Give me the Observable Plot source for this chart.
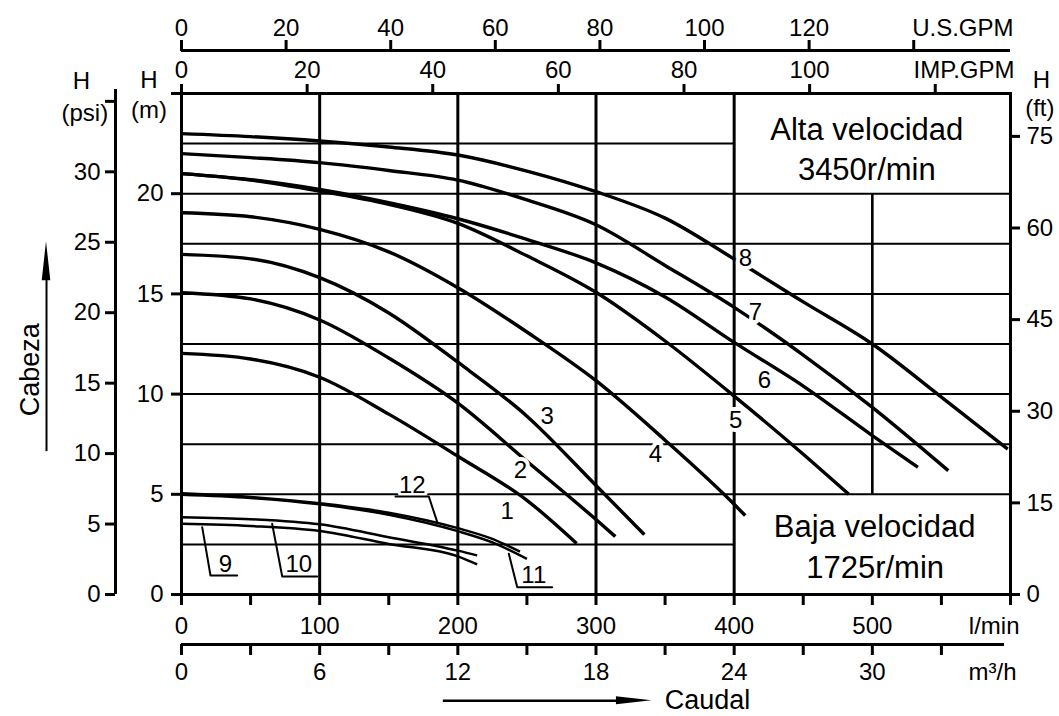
<!DOCTYPE html>
<html>
<head>
<meta charset="utf-8">
<script src="https://cdn.jsdelivr.net/npm/d3@7"></script>
<script src="https://cdn.jsdelivr.net/npm/@observablehq/plot@0.6"></script>
<style>
  html, body { margin: 0; padding: 0; background: #fff; overflow: hidden; }
  #chart { position: relative; width: 1059px; height: 716px; }
  #chart svg { position: absolute; left: 0; top: 0; background: transparent !important;
               overflow: visible; font-family: "Liberation Sans", Arial, sans-serif !important; }
</style>
</head>
<body>
<div id="chart"></div>
<script>
// ---------- data (flow in l/min, head in m) ----------
const curve1  = [[0,12.03],[50,11.75],[100,10.84],[150,9.0],[200,6.9],[250,4.7],[286,2.55]];
const curve2  = [[0,15.06],[50,14.75],[100,13.7],[150,11.8],[200,9.55],[250,6.65],[300,3.74],[314,2.89]];
const curve3  = [[0,16.97],[50,16.75],[100,15.81],[150,14.05],[200,11.59],[250,8.9],[300,5.44],[335,2.99]];
const curve4  = [[0,19.05],[50,18.85],[100,18.22],[150,17.1],[200,15.31],[250,13.1],[300,10.67],[350,7.7],[400,4.5],[408,3.94]];
const curve5  = [[0,21.0],[50,20.68],[100,20.13],[150,19.47],[200,18.52],[250,16.9],[300,15.08],[350,12.65],[400,9.9],[450,7.0],[483,5.0]];
const curve6  = [[0,21.0],[50,20.7],[100,20.21],[150,19.55],[200,18.75],[250,17.72],[300,16.55],[350,14.85],[400,12.58],[450,10.4],[500,7.93],[533,6.35]];
const curve7  = [[0,22.0],[50,21.8],[100,21.55],[150,21.16],[200,20.68],[250,19.69],[300,18.45],[350,16.42],[400,14.33],[450,11.95],[500,9.34],[555,6.18]];
const curve8  = [[0,23.0],[50,22.85],[100,22.63],[150,22.33],[200,21.93],[250,21.13],[300,20.1],[350,18.78],[400,16.74],[450,14.6],[500,12.5],[550,9.85],[598,7.25]];
const curve9  = [[0,3.53],[50,3.42],[100,3.17],[150,2.52],[200,1.9],[214,1.5]];
const curve10 = [[0,3.86],[50,3.76],[100,3.5],[150,2.86],[200,2.19],[214,1.95]];
const curve11 = [[0,4.98],[50,4.82],[100,4.5],[150,3.98],[200,3.16],[225,2.6],[250,1.78]];
const curve12 = [[0,5.05],[50,4.87],[100,4.55],[150,4.08],[200,3.31],[224,2.8],[245,2.14]];

const highCurves = {1: curve1, 2: curve2, 3: curve3, 4: curve4, 5: curve5, 6: curve6, 7: curve7, 8: curve8};
const lowCurves  = {9: curve9, 10: curve10, 11: curve11, 12: curve12};

// tick values
const lpmTicks   = d3.range(0, 601, 50);
const m3hTicks   = d3.range(0, 34, 3);
const usGpmTicks = [0, 20, 40, 60, 80, 100, 120, 140];
const impGpmTicks= [0, 20, 40, 60, 80, 100, 120];
const mTicks     = [0, 5, 10, 15, 20, 25];
const psiTicks   = [0, 5, 10, 15, 20, 25, 30, 35];
const ftTicks    = [0, 15, 30, 45, 60, 75];
const hGridFull  = [5, 7.5, 10, 12.5, 15, 17.5, 20];
const hGridShort = [2.5, 22.5];
const vGridFull  = [100, 200, 300, 400];
const vGridShort = [500];

// unit conversions
const L_PER_USGAL = 3.78541, L_PER_IMPGAL = 4.54609;
const PSI_PER_M = 1.42233, FT_PER_M = 3.28084;
const QMAX = 600, HMAX = 25;

// ---------- annotations (data units) ----------
const curveLabels = [
  {t: "1", q: 235.7, h: 4.15}, {t: "2", q: 245.3, h: 6.22}, {t: "3", q: 264.7, h: 8.88},
  {t: "4", q: 343, h: 6.98}, {t: "5", q: 401, h: 8.71}, {t: "6", q: 421.9, h: 10.71},
  {t: "7", q: 415.4, h: 14.08}, {t: "8", q: 408.2, h: 16.79}
];
const lowLabels = [
  {t: "9", q: 31.8, h: 1.53}, {t: "10", q: 84.9, h: 1.53},
  {t: "12", q: 167, h: 5.44}, {t: "11", q: 255, h: 0.95}
];
const leaders = [
  {id: 9,  pts: [[14.98,3.36],[20.99,0.95],[40.3,0.95]]},
  {id: 10, pts: [[65.6,3.53],[72.9,0.9],[98.2,0.9]]},
  {id: 12, pts: [[154.9,4.89],[179,4.89],[185.1,3.61]]},
  {id: 11, pts: [[236.9,2.03],[243,0.36],[268.3,0.36]]}
];

const toRows = obj => Object.entries(obj).flatMap(([id, pts]) => pts.map(([q, h]) => ({id, q, h})));
const highData = toRows(highCurves);
const lowData = toRows(lowCurves);
const leaderData = leaders.flatMap(l => l.pts.map(([q, h]) => ({id: l.id, q, h})));

const W = 1059, H = 716;
const frameM = {marginLeft: 181, marginRight: 49, marginTop: 93, marginBottom: 122};
const FS = 24;
const chart = document.getElementById("chart");

// ---------- main chart ----------
const main = Plot.plot({
  width: W, height: H, ...frameM,
  x: {domain: [0, QMAX]},
  y: {domain: [0, HMAX]},
  marks: [
    Plot.ruleY(hGridFull, {strokeWidth: 2}),
    Plot.ruleY(hGridShort, {x1: 0, x2: 400, strokeWidth: 2}),
    Plot.ruleX(vGridFull, {strokeWidth: 3}),
    Plot.ruleX(vGridShort, {y1: 5, y2: 20, strokeWidth: 2.6}),
    Plot.frame({strokeWidth: 3}),
    Plot.line(highData, {x: "q", y: "h", z: "id", curve: "monotone-x", strokeWidth: 3.4, strokeLinecap: "butt"}),
    Plot.line(lowData, {x: "q", y: "h", z: "id", curve: "monotone-x", strokeWidth: 2.5, strokeLinecap: "butt"}),
    Plot.text(curveLabels, {x: "q", y: "h", text: "t", fontSize: FS, fill: "black", stroke: "white", strokeWidth: 8}),
    Plot.text(lowLabels, {x: "q", y: "h", text: "t", fontSize: FS, fill: "black", stroke: "white", strokeWidth: 6}),
    Plot.line(leaderData, {x: "q", y: "h", z: "id", strokeWidth: 2}),
    // speed boxes
    Plot.text(["Alta velocidad"], {x: 496, y: 23.19, fontSize: 31}),
    Plot.text(["3450r/min"], {x: 496, y: 21.17, fontSize: 31}),
    Plot.text(["Baja velocidad"], {x: 501.6, y: 3.34, fontSize: 31}),
    Plot.text(["1725r/min"], {x: 502, y: 1.33, fontSize: 31}),
    // axes
    Plot.axisX({anchor: "bottom", ticks: lpmTicks, tickFormat: d => (d % 100 === 0 && d < 600) ? String(d) : "",
                tickSize: 11, tickPadding: 11, strokeWidth: 3, fontSize: FS, label: null}),
    Plot.text(["l/min"], {x: QMAX, y: 0, textAnchor: "end", lineAnchor: "top", dx: 9, dy: 22, fontSize: FS}),
    Plot.axisY({anchor: "left", ticks: mTicks, tickFormat: d => d === 25 ? "" : String(d),
                tickSize: 10, tickPadding: 8, strokeWidth: 3, fontSize: FS, label: null}),
    // axis titles
    Plot.text(["H"], {x: -23.5, y: 25.64, fontSize: FS}),
    Plot.text(["(m)"], {x: -23.5, y: 24.14, fontSize: FS}),
    Plot.text(["H"], {x: -72.4, y: 25.59, fontSize: FS}),
    Plot.text(["(psi)"], {x: -70, y: 23.99, fontSize: FS}),
    Plot.text(["H"], {x: 622.4, y: 25.67, fontSize: FS}),
    Plot.text(["(ft)"], {x: 621.2, y: 24.24, fontSize: FS}),
    Plot.text(["Cabeza"], {x: -109.3, y: 11.22, rotate: -90, fontSize: 27}),
    Plot.ruleX([-97.7], {y1: 7.13, y2: 15.8, strokeWidth: 2}),
    Plot.areaX([{h: 15.66, a: -100.8, b: -94.6}, {h: 17.6, a: -97.7, b: -97.7}], {y: "h", x1: "a", x2: "b", fill: "black"}),
    Plot.text(["Caudal"], {x: 380.7, y: -5.29, fontSize: 27}),
    Plot.ruleY([-5.3], {x1: 189.5, x2: 316, strokeWidth: 2.4}),
    Plot.areaY([{q: 314.8, a: -5.5, b: -5.1}, {q: 340.5, a: -5.3, b: -5.3}], {x: "q", y1: "a", y2: "b", fill: "black"})
  ]
});
chart.appendChild(main);

// ---------- secondary axes ----------
// psi (left, offset)
chart.appendChild(Plot.plot({
  width: W, height: H, marginLeft: 115, marginRight: 49, marginTop: 93, marginBottom: 122,
  x: {domain: [0, 1], axis: null},
  y: {domain: [0, HMAX * PSI_PER_M]},
  marks: [
    Plot.ruleX([0], {strokeWidth: 3, insetTop: -4}),
    Plot.axisY({anchor: "left", ticks: psiTicks, tickFormat: d => d === 35 ? "" : String(d),
                tickSize: 10, tickPadding: 5, strokeWidth: 3, fontSize: FS, label: null})
  ]
}));

// ft (right)
chart.appendChild(Plot.plot({
  width: W, height: H, ...frameM,
  y: {domain: [0, HMAX * FT_PER_M]},
  marks: [
    Plot.axisY({anchor: "right", ticks: ftTicks, tickSize: 9, tickPadding: 7, strokeWidth: 3, fontSize: FS, label: null})
  ]
}));

// IMP.GPM (top of frame)
chart.appendChild(Plot.plot({
  width: W, height: H, ...frameM,
  x: {domain: [0, QMAX / L_PER_IMPGAL]},
  marks: [
    Plot.axisX({anchor: "top", ticks: impGpmTicks, tickFormat: d => d === 120 ? "" : String(d),
                tickSize: 10, tickPadding: 6, strokeWidth: 3, fontSize: FS, label: null}),
    Plot.text(["IMP.GPM"], {x: QMAX / L_PER_IMPGAL, frameAnchor: "top", textAnchor: "end", lineAnchor: "bottom", dx: 4, dy: -16, fontSize: FS})
  ]
}));

// U.S.GPM (top, offset)
chart.appendChild(Plot.plot({
  width: W, height: H, marginLeft: 181, marginRight: 49, marginTop: 50, marginBottom: 600,
  x: {domain: [0, QMAX / L_PER_USGAL]},
  y: {domain: [0, 1], axis: null},
  marks: [
    Plot.ruleY([1], {strokeWidth: 3}),
    Plot.axisX({anchor: "top", ticks: usGpmTicks, tickFormat: d => d === 140 ? "" : String(d),
                tickSize: 11, tickPadding: 4, strokeWidth: 3, fontSize: FS, label: null}),
    Plot.text(["U.S.GPM"], {x: QMAX / L_PER_USGAL, y: 1, textAnchor: "end", lineAnchor: "bottom", dx: 3, dy: -15, fontSize: FS})
  ]
}));

// m³/h (bottom, offset)
chart.appendChild(Plot.plot({
  width: W, height: H, marginLeft: 181, marginRight: 49, marginTop: 600, marginBottom: 72,
  x: {domain: [0, QMAX * 60 / 1000]},
  y: {domain: [0, 1], axis: null},
  marks: [
    Plot.ruleY([0], {strokeWidth: 3, insetRight: 6}),
    Plot.axisX({anchor: "bottom", ticks: m3hTicks, tickFormat: d => d % 6 === 0 ? String(d) : "",
                tickSize: 11, tickPadding: 7, strokeWidth: 3, fontSize: FS, label: null}),
    Plot.text(["m³/h"], {x: QMAX * 60 / 1000, y: 0, textAnchor: "end", lineAnchor: "top", dx: 6, dy: 18, fontSize: FS})
  ]
}));
</script>
</body>
</html>
